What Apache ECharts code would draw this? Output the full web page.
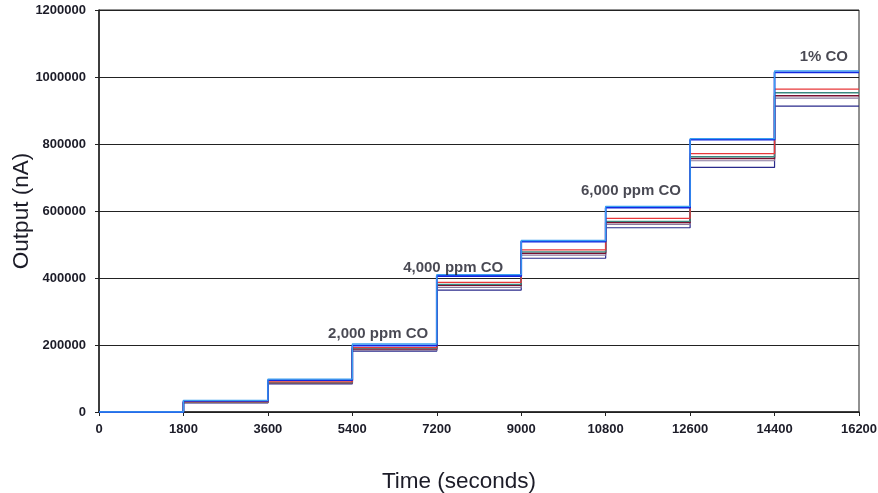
<!doctype html>
<html>
<head>
<meta charset="utf-8">
<title>CO step response</title>
<script src="https://cdn.jsdelivr.net/npm/echarts@6/dist/echarts.min.js"></script>
<style>
  html, body { margin: 0; padding: 0; background: #fff; }
  #chart { width: 878px; height: 493px; }
</style>
</head>
<body>
<div id="chart"></div>
<script>
// step start times (seconds); the last entry closes the final step
var times = [0, 1800, 3600, 5400, 7200, 9000, 10800, 12600, 14400, 16200];

// level held from each time until the next one (nA)
var lightBlue = [0, 35000, 98000, 203000, 410000, 512000, 614000, 816000, 1018000];
var blue      = [0, 33000, 95000, 198000, 406000, 509000, 610000, 813000, 1014000];
var red       = [0, 30000, 90000, 192000, 387000, 484000, 578000, 771000, 964000];
var teal      = [0, 29000, 88000, 190000, 381000, 478000, 569000, 762000, 953000];
var maroon    = [0, 29000, 87000, 188000, 378000, 474000, 566000, 757000, 944000];
var purple    = [0, 28000, 86000, 185000, 372000, 468000, 560000, 750000, 937000];
var navy      = [0, 27000, 84000, 182000, 364000, 459000, 550000, 730000, 913000];

var yTicks = [0, 200000, 400000, 600000, 800000, 1000000, 1200000];
var xTicks = [0, 1800, 3600, 5400, 7200, 9000, 10800, 12600, 14400, 16200];

var noteText = ['2,000 ppm CO', '4,000 ppm CO', '6,000 ppm CO', '1% CO'];
var noteAt   = [[5950, 233000], [7550, 430000], [11340, 660000], [15450, 1060000]];

function pts(levels) {
  var out = [];
  for (var i = 0; i < times.length; i++) {
    out.push([times[i], levels[Math.min(i, levels.length - 1)]]);
  }
  return out;
}

function line(name, levels, color, width, z) {
  return {
    name: name, type: 'line', step: 'end', data: pts(levels),
    showSymbol: false, z: z, animation: false,
    lineStyle: { color: color, width: width }
  };
}

var txt = '#1c1c28';
var chart = echarts.init(document.getElementById('chart'));
chart.setOption({
  backgroundColor: '#fff',
  grid: { left: 99, right: 19, top: 10, bottom: 81, containLabel: false, outerBoundsMode: 'none',
    show: true, borderColor: '#222', borderWidth: 1 },
  xAxis: {
    type: 'value', min: 0, max: 16200, interval: 1800,
    name: 'Time (seconds)', nameLocation: 'middle', nameGap: 58,
    nameTextStyle: { fontFamily: 'Liberation Sans', fontSize: 22.5, color: txt, padding: [0, 40, 0, 0] },
    axisLine: { lineStyle: { color: '#222', width: 1.5 } },
    axisTick: { show: true, length: 4, lineStyle: { color: '#222' } },
    axisLabel: { fontFamily: 'Liberation Sans', fontWeight: 'bold', fontSize: 13, color: txt, margin: 11,
      formatter: function (v) { return xTicks.indexOf(v) >= 0 ? String(v) : ''; } },
    splitLine: { show: false }
  },
  yAxis: {
    type: 'value', min: 0, max: 1200000, interval: 200000,
    name: 'Output (nA)', nameLocation: 'middle', nameGap: 66, nameRotate: 90, nameMoveOverlap: false,
    nameTextStyle: { fontFamily: 'Liberation Sans', fontSize: 22.5, color: txt },
    axisLine: { show: true, lineStyle: { color: '#222', width: 1.5 } },
    axisTick: { show: true, length: 4, lineStyle: { color: '#222' } },
    axisLabel: { fontFamily: 'Liberation Sans', fontWeight: 'bold', fontSize: 13, color: txt, margin: 13,
      formatter: function (v) { return yTicks.indexOf(v) >= 0 ? String(v) : ''; } },
    splitLine: { show: true, lineStyle: { color: '#222', width: 1 } }
  },
  series: [
    line('navy', navy, '#2a2a8c', 1.2, 2),
    line('purple', purple, '#8a7a9e', 1.2, 3),
    line('maroon', maroon, '#7a1030', 1.5, 4),
    line('teal', teal, '#3a8a80', 1.3, 5),
    line('red', red, '#e8383a', 1.2, 6),
    line('blue', blue, '#1428e0', 1.8, 7),
    line('lightBlue', lightBlue, '#3aa0f0', 1.3, 8),
    {
      type: 'scatter', symbolSize: 0, z: 10, animation: false,
      data: noteAt.map(function (p, i) { return { value: p, name: noteText[i] }; }),
      label: { show: true, position: 'inside', formatter: '{b}',
        fontFamily: 'Liberation Sans', fontWeight: 'bold', fontSize: 15, color: txt }
    }
  ]
});
</script>
</body>
</html>
